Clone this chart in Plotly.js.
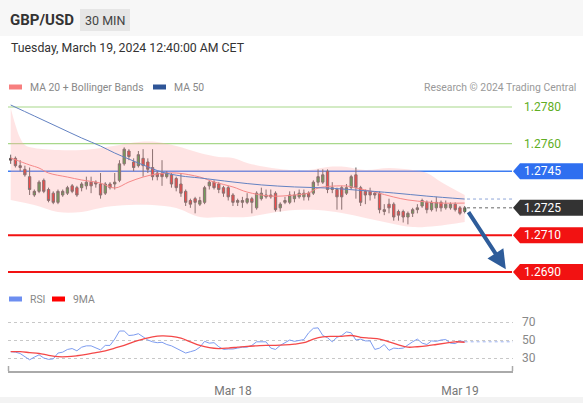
<!DOCTYPE html>
<html><head><meta charset="utf-8">
<script src="https://cdn.plot.ly/plotly-3.0.1.min.js"></script>
<style>html,body{margin:0;padding:0;background:#fff;}#chart{width:583px;height:403px;}</style>
</head><body><div id="chart"></div>
<script>
// ---- data ----
const opens  = [1.2752,1.2752,1.2748,1.2746,1.2742,1.2732,1.2734,1.2740,1.2735,1.2733,1.2728,1.2732,1.2733,1.2737,1.2736,1.2736,1.2737,1.2739,1.2739,1.2738,1.2733,1.2738,1.2738,1.2740,1.2749,1.2756,1.2750,1.2748,1.2752,1.2750,1.2747,1.2744,1.2744,1.2742,1.2743,1.2741,1.2738,1.2734,1.2729,1.2730,1.2727,1.2728,1.2737,1.2739,1.2738,1.2736,1.2736,1.2732,1.2728,1.2728,1.2728,1.2730,1.2725,1.2730,1.2731,1.2732,1.2733,1.2725,1.2728,1.2728,1.2730,1.2731,1.2731,1.2733,1.2733,1.2739,1.2739,1.2745,1.2735,1.2735,1.2736,1.2733,1.2736,1.2743,1.2736,1.2734,1.2734,1.2733,1.2733,1.2723,1.2727,1.2727,1.2723,1.2723,1.2720,1.2722,1.2724,1.2726,1.2728,1.2724,1.2725,1.2728,1.2725,1.2725,1.2727,1.2725,1.2723];
const highs  = [1.2754,1.2753,1.2751,1.2748,1.2747,1.2735,1.2740,1.2741,1.2736,1.2734,1.2735,1.2735,1.2737,1.2738,1.2737,1.2739,1.2742,1.2742,1.2740,1.2744,1.2739,1.2739,1.2744,1.2751,1.2758,1.2757,1.2752,1.2756,1.2757,1.2752,1.2757,1.2745,1.2751,1.2745,1.2744,1.2742,1.2744,1.2735,1.2730,1.2731,1.2731,1.2737,1.2740,1.2740,1.2739,1.2737,1.2737,1.2733,1.2730,1.2731,1.2733,1.2731,1.2734,1.2736,1.2735,1.2735,1.2734,1.2728,1.2731,1.2734,1.2734,1.2735,1.2735,1.2734,1.2740,1.2746,1.2746,1.2746,1.2739,1.2736,1.2737,1.2738,1.2743,1.2747,1.2737,1.2735,1.2736,1.2734,1.2734,1.2727,1.2730,1.2728,1.2724,1.2724,1.2723,1.2725,1.2727,1.2730,1.2729,1.2729,1.2731,1.2729,1.2729,1.2728,1.2728,1.2726,1.2726];
const lows   = [1.2749,1.2747,1.2745,1.2742,1.2732,1.2731,1.2733,1.2733,1.2728,1.2727,1.2727,1.2731,1.2732,1.2733,1.2731,1.2734,1.2735,1.2733,1.2736,1.2730,1.2732,1.2735,1.2735,1.2739,1.2748,1.2751,1.2745,1.2747,1.2742,1.2744,1.2740,1.2740,1.2737,1.2741,1.2736,1.2734,1.2731,1.2726,1.2725,1.2722,1.2726,1.2727,1.2735,1.2735,1.2733,1.2731,1.2729,1.2726,1.2726,1.2725,1.2727,1.2722,1.2724,1.2729,1.2730,1.2730,1.2723,1.2723,1.2727,1.2727,1.2728,1.2730,1.2729,1.2729,1.2732,1.2737,1.2738,1.2733,1.2733,1.2724,1.2724,1.2732,1.2735,1.2730,1.2726,1.2727,1.2729,1.2730,1.2722,1.2721,1.2722,1.2718,1.2718,1.2717,1.2716,1.2720,1.2722,1.2725,1.2722,1.2723,1.2723,1.2723,1.2724,1.2724,1.2723,1.2721,1.2722];
const closes = [1.2751,1.2748,1.2747,1.2743,1.2735,1.2734,1.2739,1.2734,1.2729,1.2728,1.2734,1.2734,1.2736,1.2734,1.2732,1.2738,1.2739,1.2737,1.2738,1.2732,1.2738,1.2736,1.2739,1.2749,1.2757,1.2753,1.2747,1.2754,1.2748,1.2746,1.2742,1.2742,1.2742,1.2744,1.2738,1.2736,1.2733,1.2728,1.2727,1.2728,1.2729,1.2736,1.2739,1.2736,1.2735,1.2733,1.2731,1.2728,1.2729,1.2729,1.2730,1.2728,1.2733,1.2733,1.2732,1.2731,1.2724,1.2727,1.2729,1.2732,1.2732,1.2733,1.2733,1.2731,1.2739,1.2742,1.2743,1.2735,1.2736,1.2731,1.2731,1.2736,1.2742,1.2736,1.2728,1.2732,1.2732,1.2732,1.2724,1.2724,1.2725,1.2720,1.2721,1.2720,1.2722,1.2724,1.2725,1.2729,1.2724,1.2728,1.2728,1.2725,1.2727,1.2727,1.2724,1.2722,1.2725];

const ma50Idx = [0,5,10,15,19,22,25,28,32,36,40,47,53,60,67,73,81,88,96];
const ma50Val = [1.27811,1.27751,1.27691,1.27631,1.27587,1.27549,1.27516,1.27484,1.27445,1.27424,1.27413,1.27391,1.27375,1.27364,1.27358,1.27347,1.27331,1.27314,1.27298];

const ma20Idx = [0,4,6,8,12,15,19,22,25,28,31,35,40,43,47,50,55,60,63,65,71,73,77,81,84,88,91,96];
const ma20Val = [1.27522,1.27484,1.27467,1.27440,1.27418,1.27402,1.27385,1.27358,1.27391,1.27418,1.27435,1.27440,1.27418,1.27391,1.27364,1.27336,1.27314,1.27320,1.27331,1.27358,1.27369,1.27358,1.27336,1.27309,1.27293,1.27282,1.27276,1.27276];

const bbUpIdx = [0,1,2,3,5,10,15,19,23,27,31,35,40,44,47,50,54,59,63,67,71,75,80,85,88,91,96];
const bbUpVal = [1.27795,1.27702,1.27631,1.27593,1.27576,1.27565,1.27565,1.27576,1.27593,1.27609,1.27609,1.27587,1.27549,1.27527,1.27522,1.27495,1.27473,1.27456,1.27456,1.27473,1.27473,1.27456,1.27467,1.27456,1.27440,1.27391,1.27320];
const bbLoIdx = [0,5,10,15,20,25,30,35,40,45,50,55,60,65,70,75,80,85,90,96];
const bbLoVal = [1.27293,1.27265,1.27227,1.27227,1.27254,1.27265,1.27265,1.27249,1.27200,1.27200,1.27200,1.27222,1.27238,1.27238,1.27222,1.27195,1.27167,1.27145,1.27151,1.27173];

const rsiVal = [37,36.5,35,31.5,28,31,33.5,30,28.5,29,35.5,36.5,39.5,40.5,38,42,43.5,43.5,41,39,44,44,51,60,60,55,55.5,57,53.5,50,48,47,47.5,45,43.5,41,38.5,35.5,37,38.5,42,48.5,46.5,47,42.5,39.5,40,40,41,42,42,44,48,48,48,41,39.5,44,47,50,48.5,49.5,50.5,58,63,63.5,55,52.5,48,53,55,59,58,50,51,49,49,39.5,41,45,38.5,41,40.5,41,45,48,51,46.5,45,49,48.5,50,50.5,46.5,46,49,48];
const ma9Idx = [0,2,4,6,8,10,12,14,16,18,20,22,24,26,28,30,32,34,36,38,40,42,44,46,48,50,52,54,56,58,60,62,64,66,68,70,72,74,76,78,80,82,84,86,88,90,92,94,96];
const ma9Val = [37,37,36,35,33,31.5,31.5,32.5,34,36,38,41,44,48,51,53.5,54.5,54,52,48,44,41.5,40.5,41,42,43,43.5,44,44,44.5,45.5,47,51,53.5,54,54,55,53,52,51,48,44.5,42,42.5,43.5,45,46.5,48,47.5];

const levelsGreen = [1.2780, 1.2760];
const levelBlue = 1.2745;
const levelsRed = [1.2710, 1.2690];
const tickIdx = [47, 95];
const tickText = ['Mar 18', 'Mar 19'];

// ---- layout helpers ----
const W = 583, H = 403;
const px = x => x / W;
const py = y => 1 - y / H;
const idx = closes.map((_, i) => i);
const lastI = idx[idx.length - 1];
const lastClose = closes[closes.length - 1];
const lastMa50 = ma50Val[ma50Val.length - 1];
const lastRsi = rsiVal[rsiVal.length - 1];
const XR = [-0.57, 106.22];
const FONT = 'Roboto, "Open Sans", sans-serif';

const traces = [
  {x: bbUpIdx, y: bbUpVal, type: 'scatter', mode: 'lines', line: {width: 0, shape: 'spline'}, hoverinfo: 'skip', xaxis: 'x', yaxis: 'y'},
  {x: bbLoIdx, y: bbLoVal, type: 'scatter', mode: 'lines', line: {width: 0, shape: 'spline'}, fill: 'tonexty', fillcolor: 'rgba(255,170,170,0.32)', hoverinfo: 'skip', xaxis: 'x', yaxis: 'y'},
  {x: ma20Idx, y: ma20Val, type: 'scatter', mode: 'lines', line: {width: 1, color: '#f68888', shape: 'spline'}, hoverinfo: 'skip', xaxis: 'x', yaxis: 'y'},
  {x: ma50Idx, y: ma50Val, type: 'scatter', mode: 'lines', line: {width: 1, color: '#6382c2', shape: 'spline'}, hoverinfo: 'skip', xaxis: 'x', yaxis: 'y'},
  {x: idx, open: opens, high: highs, low: lows, close: closes, type: 'candlestick', xaxis: 'x', yaxis: 'y',
   whiskerwidth: 0,
   increasing: {line: {color: '#555', width: 1}, fillcolor: '#2f9a35'},
   decreasing: {line: {color: '#555', width: 1}, fillcolor: '#ec1c1c'}, hoverinfo: 'skip'},
  {x: idx, y: rsiVal, type: 'scatter', mode: 'lines', line: {width: 1, color: '#7d9cf0'}, hoverinfo: 'skip', xaxis: 'x2', yaxis: 'y2'},
  {x: ma9Idx, y: ma9Val, type: 'scatter', mode: 'lines', line: {width: 1.3, color: '#f44848', shape: 'spline'}, hoverinfo: 'skip', xaxis: 'x2', yaxis: 'y2'}
];

const shapes = [];
const ann = [];
// header band
shapes.push({type: 'rect', xref: 'paper', yref: 'paper', x0: 0, x1: 1, y0: py(36), y1: 1, fillcolor: '#f7f7f7', line: {width: 0}, layer: 'below'});
shapes.push({type: 'rect', xref: 'paper', yref: 'paper', x0: px(80), x1: px(130), y0: py(31), y1: py(9), fillcolor: '#e6e6e6', line: {width: 0}, layer: 'below'});
shapes.push({type: 'rect', xref: 'paper', yref: 'paper', x0: 0, x1: 1, y0: 0, y1: py(397), fillcolor: '#f3f3f3', line: {width: 0}, layer: 'below'});
ann.push({xref: 'paper', yref: 'paper', x: px(8), y: py(20), xanchor: 'left', yanchor: 'middle', showarrow: false, text: '<b>GBP/USD</b>', font: {family: FONT, size: 15, color: '#333'}});
ann.push({xref: 'paper', yref: 'paper', x: px(105), y: py(20), xanchor: 'center', yanchor: 'middle', showarrow: false, text: '30 MIN', font: {family: FONT, size: 12.5, color: '#444'}});
ann.push({xref: 'paper', yref: 'paper', x: px(9), y: py(48), xanchor: 'left', yanchor: 'middle', showarrow: false, text: 'Tuesday, March 19, 2024 12:40:00 AM CET', font: {family: FONT, size: 12.3, color: '#333'}});
// legends
function legendItem(x, y, color, label) {
  shapes.push({type: 'rect', xref: 'paper', yref: 'paper', x0: px(x), x1: px(x + 13), y0: py(y + 2.5), y1: py(y - 2.5), fillcolor: color, line: {width: 0}});
  ann.push({xref: 'paper', yref: 'paper', x: px(x + 19), y: py(y), xanchor: 'left', yanchor: 'middle', showarrow: false, text: label, font: {family: FONT, size: 10.4, color: '#888'}});
}
legendItem(9, 87, '#f77f7f', 'MA 20 + Bollinger Bands');
legendItem(153, 87, '#2f5597', 'MA 50');
legendItem(9, 299, '#6d8ef0', 'RSI');
legendItem(52, 299, '#f00', '9MA');
ann.push({xref: 'paper', yref: 'paper', x: px(578), y: py(87), xanchor: 'right', yanchor: 'middle', showarrow: false, text: 'Research © 2024 Trading Central', font: {family: FONT, size: 10.4, color: '#999'}});

// level lines
const L0 = px(8), L1 = px(512);
levelsGreen.forEach(v => {
  shapes.push({type: 'line', xref: 'paper', yref: 'y', x0: L0, x1: L1, y0: v, y1: v, line: {color: '#a8d88a', width: 1.2}, layer: 'below'});
  ann.push({xref: 'paper', yref: 'y', x: px(522), y: v, xanchor: 'left', yanchor: 'middle', showarrow: false, text: v.toFixed(4), font: {family: FONT, size: 12, color: '#5fae24'}});
});
shapes.push({type: 'line', xref: 'paper', yref: 'y', x0: L0, x1: L1, y0: levelBlue, y1: levelBlue, line: {color: '#3d7cf2', width: 1.5}, layer: 'below'});
levelsRed.forEach(v => {
  shapes.push({type: 'line', xref: 'paper', yref: 'y', x0: L0, x1: L1, y0: v, y1: v, line: {color: '#f21212', width: 2}, layer: 'below'});
});
// dotted extensions
shapes.push({type: 'line', xref: 'x', yref: 'y', x0: lastI + 0.5, x1: XR[1], y0: lastMa50, y1: lastMa50, line: {color: '#8fa6d8', width: 1, dash: 'dot'}});
shapes.push({type: 'line', xref: 'x', yref: 'y', x0: lastI + 0.5, x1: XR[1], y0: lastClose, y1: lastClose, line: {color: '#666', width: 1, dash: 'dot'}});
shapes.push({type: 'line', xref: 'x2', yref: 'y2', x0: lastI, x1: XR[1], y0: lastRsi, y1: lastRsi, line: {color: '#9db3ef', width: 1, dash: 'dot'}});

// label boxes
const hh = 8 / 18333;
function tag(v, color) {
  const a = px(513), b = px(520), c = 1.0;
  shapes.push({type: 'path', xref: 'paper', yref: 'y', path: `M ${a},${v} L ${b},${v + hh} L ${c},${v + hh} L ${c},${v - hh} L ${b},${v - hh} Z`, fillcolor: color, line: {width: 0}});
  ann.push({xref: 'paper', yref: 'y', x: px(522), y: v, xanchor: 'left', yanchor: 'middle', showarrow: false, text: v.toFixed(4), font: {family: FONT, size: 12, color: '#fff'}});
}
tag(levelBlue, '#2f6ff0');
tag(lastClose, '#333');
levelsRed.forEach(v => tag(v, '#f21212'));

// forecast arrow
ann.push({xref: 'x', yref: 'y', x: 104.7, y: 1.26915, axref: 'x', ayref: 'y', ax: lastI + 0.6, ay: 1.27235, showarrow: true, arrowhead: 2, arrowsize: 0.95, arrowwidth: 4, arrowcolor: '#2e5c9a', text: ''});

// x-axis end brackets
shapes.push({type: 'line', xref: 'paper', yref: 'paper', x0: px(8.5), x1: px(8.5), y0: py(371), y1: py(366), line: {color: '#aaa', width: 1.5}});
shapes.push({type: 'line', xref: 'paper', yref: 'paper', x0: px(512.5), x1: px(512.5), y0: py(371), y1: py(366), line: {color: '#aaa', width: 1.5}});

const layout = {
  width: W, height: H, margin: {l: 0, r: 0, t: 0, b: 0},
  paper_bgcolor: '#fff', plot_bgcolor: 'rgba(0,0,0,0)', showlegend: false,
  font: {family: FONT},
  xaxis: {domain: [px(8), px(513)], range: XR, visible: false, rangeslider: {visible: false}, fixedrange: true},
  yaxis: {domain: [py(285), py(95)], range: [1.268291, 1.278655], visible: false, fixedrange: true},
  xaxis2: {domain: [px(8), px(513)], range: XR, anchor: 'y2', showgrid: false, zeroline: false, showline: true, linecolor: '#aaa', linewidth: 1.5,
           tickmode: 'array', tickvals: tickIdx, ticktext: tickText, ticks: '', ticklabelstandoff: 8, tickfont: {family: FONT, size: 12, color: '#777'}},
  yaxis2: {domain: [py(371), py(312)], range: [15.56, 81.11], anchor: 'x2', side: 'right', tickmode: 'array', tickvals: [30, 50, 70],
           ticks: '', showgrid: true, gridcolor: '#c8c8c8', griddash: 'dot', gridwidth: 1, zeroline: false, showline: false,
           ticklabelstandoff: 8, tickfont: {family: FONT, size: 12, color: '#888'}},
  shapes: shapes, annotations: ann
};
Plotly.newPlot('chart', traces, layout, {staticPlot: true, displayModeBar: false});
</script></body></html>
